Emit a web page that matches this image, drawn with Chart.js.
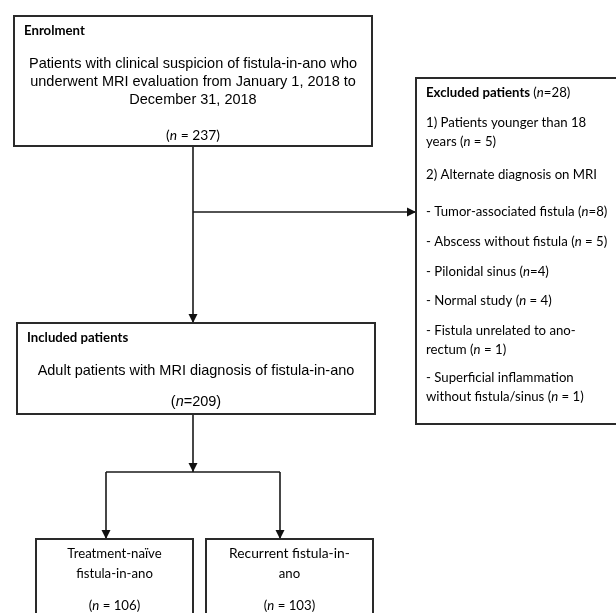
<!DOCTYPE html>
<html>
<head>
<meta charset="utf-8">
<script src="https://cdn.jsdelivr.net/npm/chart.js@4.4.1/dist/chart.umd.min.js"></script>
<style>
html,body{margin:0;padding:0;background:#fff;}
#wrap{width:616px;height:613px;position:relative;}
</style>
</head>
<body>
<div id="wrap"><canvas id="c"></canvas></div>
<script>
// ---- DATA ----
const stageTitles = ['Enrolment', 'Included patients', 'Excluded patients'];
const stageCounts = [237, 209, 28];
const enrolmentLines = [
  'Patients with clinical suspicion of fistula-in-ano who',
  'underwent MRI evaluation from January 1, 2018 to',
  'December 31, 2018'
];
const includedLines = ['Adult patients with MRI diagnosis of fistula-in-ano'];
const exclusionLabels = [
  ['1) Patients younger than 18', 'years'],
  ['2) Alternate diagnosis on MRI'],
  ['- Tumor-associated fistula'],
  ['- Abscess without fistula'],
  ['- Pilonidal sinus'],
  ['- Normal study'],
  ['- Fistula unrelated to ano-', 'rectum'],
  ['- Superficial inflammation', 'without fistula/sinus']
];
const exclusionCounts = [5, null, 8, 5, 4, 4, 1, 1];
const exclusionEq = [' = ', null, '=', ' = ', '=', ' = ', ' = ', ' = '];
const groupLabels = [['Treatment-naïve', 'fistula-in-ano'], ['Recurrent fistula-in-', 'ano']];
const groupCounts = [106, 103];

// ---- LAYOUT (positions in chart units) ----
const W = 616, H = 613;
const boxes = {
  enrol: {x0: 14, y0: 16, x1: 372, y1: 146},
  excl:  {x0: 416, y0: 78, x1: 640, y1: 424},
  incl:  {x0: 17, y0: 323, x1: 375, y1: 414},
  g1:    {x0: 36, y0: 539, x1: 193, y1: 640},
  g2:    {x0: 206, y0: 539, x1: 373, y1: 640}
};
const exclusionRowY = [123, 175, 212, 242, 272, 301, 331, 378];
const wrapStep = 18.7;
const connectors = [
  {pts: [[193, 146], [193, 323]], arrow: 'down'},
  {pts: [[193, 212], [416, 212]], arrow: 'right'},
  {pts: [[193, 414], [193, 472]], arrow: 'down'},
  {pts: [[106, 472], [280, 472]], arrow: null},
  {pts: [[106, 472], [106, 539]], arrow: 'down'},
  {pts: [[280, 472], [280, 539]], arrow: 'down'}
];

const ARIAL = '"Liberation Sans", Arial, sans-serif';
const CAL = 'Lato, Carlito, Calibri, sans-serif';
const fArial = (s, st) => (st || '') + ' ' + s + 'px ' + ARIAL;
const fCal = (s, st) => (st || '') + ' ' + s + 'px ' + CAL;
const AS = 14.5, CS = 13.2;

function drawRich(ctx, segs, x, y, align) {
  let total = 0;
  segs.forEach(s => { ctx.font = s.f; s.w = ctx.measureText(s.t).width; total += s.w; });
  let cx = align === 'center' ? x - total / 2 : x;
  ctx.textAlign = 'left';
  ctx.textBaseline = 'middle';
  segs.forEach(s => { ctx.font = s.f; ctx.fillText(s.t, cx, y); cx += s.w; });
}
function nSegs(fontFn, size, eq, count, pre) {
  return [
    {t: (pre || '') + '(', f: fontFn(size)},
    {t: 'n', f: fontFn(size, 'italic')},
    {t: eq + count + ')', f: fontFn(size)}
  ];
}

const flowPlugin = {
  id: 'flow',
  afterDatasetsDraw(chart) {
    const ctx = chart.ctx, sx = v => chart.scales.x.getPixelForValue(v), sy = v => chart.scales.y.getPixelForValue(v);
    ctx.save();
    // arrowheads
    ctx.fillStyle = '#111';
    connectors.forEach(c => {
      if (!c.arrow) return;
      const p = c.pts[c.pts.length - 1];
      const X = sx(p[0]), Y = sy(p[1]);
      ctx.beginPath();
      if (c.arrow === 'down') { ctx.moveTo(X, Y); ctx.lineTo(X - 4.5, Y - 9); ctx.lineTo(X + 4.5, Y - 9); }
      else { ctx.moveTo(X, Y); ctx.lineTo(X - 9, Y - 4.5); ctx.lineTo(X - 9, Y + 4.5); }
      ctx.closePath(); ctx.fill();
    });
    // boxes
    ctx.strokeStyle = '#2a2a2a';
    ctx.lineWidth = 2;
    Object.values(boxes).forEach(b => {
      ctx.strokeRect(sx(b.x0), sy(b.y0), sx(b.x1) - sx(b.x0), sy(b.y1) - sy(b.y0));
    });
    ctx.fillStyle = '#000';
    // Enrolment
    const e = boxes.enrol, ecx = sx((e.x0 + e.x1) / 2);
    drawRich(ctx, [{t: stageTitles[0], f: fCal(CS, 'bold')}], sx(e.x0 + 10), sy(31), 'left');
    enrolmentLines.forEach((t, i) => drawRich(ctx, [{t, f: fArial(AS)}], ecx, sy(64 + i * 18), 'center'));
    drawRich(ctx, nSegs(fCal, CS + 0.6, ' = ', stageCounts[0]), ecx, sy(136), 'center');
    // Included
    const n = boxes.incl, ncx = sx((n.x0 + n.x1) / 2);
    drawRich(ctx, [{t: stageTitles[1], f: fCal(CS, 'bold')}], sx(n.x0 + 10), sy(338), 'left');
    includedLines.forEach((t, i) => drawRich(ctx, [{t, f: fArial(AS)}], ncx, sy(371 + i * 18), 'center'));
    drawRich(ctx, nSegs(fArial, AS, '=', stageCounts[1]), ncx, sy(402), 'center');
    // Excluded
    const x = boxes.excl, xl = sx(x.x0 + 10);
    drawRich(ctx, [{t: stageTitles[2] + ' ', f: fCal(CS, 'bold')}].concat(nSegs(fCal, CS, '=', stageCounts[2])), xl, sy(93), 'left');
    exclusionLabels.forEach((lines, i) => {
      lines.forEach((t, j) => {
        const last = j === lines.length - 1;
        let segs = [{t, f: fCal(CS)}];
        if (last && exclusionCounts[i] != null) segs = segs.concat(nSegs(fCal, CS, exclusionEq[i], exclusionCounts[i], ' '));
        drawRich(ctx, segs, xl, sy(exclusionRowY[i] + j * wrapStep), 'left');
      });
    });
    // Groups
    ['g1', 'g2'].forEach((k, i) => {
      const b = boxes[k], cx = sx((b.x0 + b.x1) / 2);
      groupLabels[i].forEach((t, j) => drawRich(ctx, [{t, f: fCal(CS + (i === 1 && j === 0 ? 0.6 : 0))}], cx, sy(554 + j * 20), 'center'));
      drawRich(ctx, nSegs(fCal, CS, ' = ', groupCounts[i]), cx, sy(606), 'center');
    });
    ctx.restore();
  }
};

new Chart(document.getElementById('c'), {
  type: 'scatter',
  data: {
    datasets: connectors.map(c => ({
      data: c.pts.map(p => ({x: p[0], y: p[1]})),
      showLine: true,
      borderColor: '#1a1a1a',
      borderWidth: 1.6,
      pointRadius: 0,
      tension: 0,
      clip: false
    }))
  },
  options: {
    responsive: true,
    maintainAspectRatio: false,
    animation: false,
    layout: {padding: 0},
    plugins: {legend: {display: false}, tooltip: {enabled: false}},
    scales: {
      x: {type: 'linear', min: 0, max: W, display: false},
      y: {type: 'linear', min: 0, max: H, reverse: true, display: false}
    }
  },
  plugins: [flowPlugin]
});
</script>
</body>
</html>
